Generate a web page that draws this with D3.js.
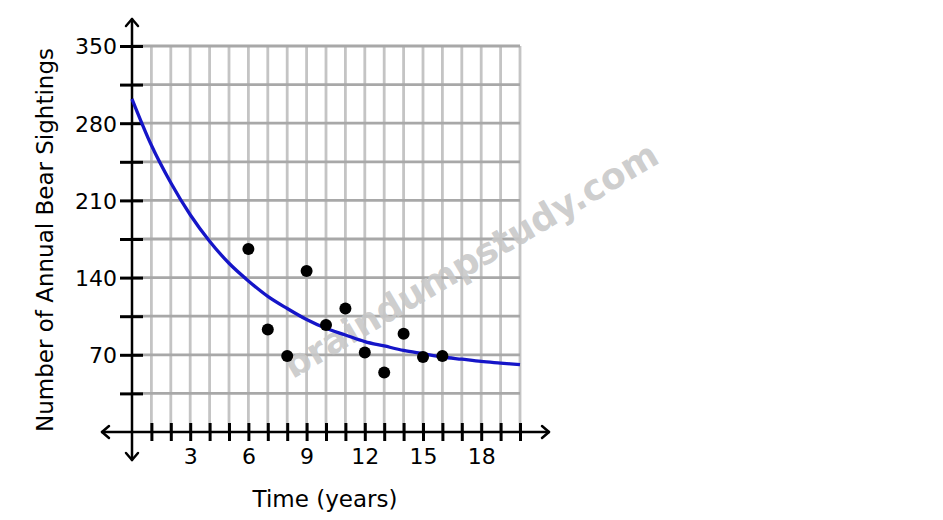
<!DOCTYPE html>
<html>
<head>
<meta charset="utf-8">
<script src="https://cdn.jsdelivr.net/npm/d3@7"></script>
<style>
  html, body { margin: 0; padding: 0; background: #fff; }
  svg { display: block; font-family: "DejaVu Sans", sans-serif; }
</style>
</head>
<body>
<svg id="chart" width="943" height="520"></svg>
<script>
// ---- data ----
const years = [6, 7, 8, 9, 10, 11, 12, 13, 14, 15, 16];
const sightings = [166, 93, 69, 146, 97, 112, 72, 54, 89, 68, 69];
const curveYears = [0, 1, 2, 3, 4, 5, 6, 7, 8, 9, 10, 11, 12, 13, 14, 15, 16, 17, 18, 19, 20];
const curveValues = [302, 260, 226, 197, 173, 153, 137, 123, 112, 102, 94, 88, 82, 78, 74, 71, 68, 66, 64, 62.5, 61];
const xTickLabels = [3, 6, 9, 12, 15, 18];
const yTickLabels = [70, 140, 210, 280, 350];
const xTitle = "Time (years)";
const yTitle = "Number of Annual Bear Sightings";
const watermark = "braindumpstudy.com";

// ---- layout ----
const svg = d3.select("#chart");
const x = d3.scaleLinear().domain([0, 20]).range([132, 520]);
const y = d3.scaleLinear().domain([0, 350]).range([432, 46]);

const gridX = d3.range(1, 21);
const gridY = d3.range(35, 351, 35);

// vertical grid
svg.append("g").selectAll("line").data(gridX).join("line")
  .attr("x1", d => x(d)).attr("x2", d => x(d))
  .attr("y1", y(350)).attr("y2", y(0))
  .attr("stroke", "#c4c4c4").attr("stroke-width", 2.8);

// horizontal grid
svg.append("g").selectAll("line").data(gridY).join("line")
  .attr("x1", x(0)).attr("x2", x(20))
  .attr("y1", d => y(d)).attr("y2", d => y(d))
  .attr("stroke", "#a8a8a8").attr("stroke-width", 2.8);

// watermark
svg.append("text")
  .attr("transform", "translate(472,262) rotate(-30.5)")
  .attr("text-anchor", "middle")
  .attr("dominant-baseline", "middle")
  .attr("font-family", "DejaVu Sans, sans-serif")
  .attr("font-weight", "bold")
  .attr("font-size", 36)
  .attr("fill", "#c8c8c8")
  .attr("fill-opacity", 0.9)
  .text(watermark);

// x axis
const xAxis = d3.axisBottom(x)
  .tickValues(gridX)
  .tickFormat(d => xTickLabels.includes(d) ? d : "")
  .tickSizeOuter(0);
const gx = svg.append("g").attr("transform", `translate(0,${y(0)})`).call(xAxis);
gx.select(".domain").remove();
gx.selectAll(".tick line").attr("y1", -9).attr("y2", 9)
  .attr("stroke", "#000").attr("stroke-width", 3);
gx.selectAll(".tick text").attr("y", 16).attr("dy", "0.71em")
  .attr("font-size", 22).attr("fill", "#000")
  .attr("font-family", "DejaVu Sans, sans-serif");

// y axis
const yAxis = d3.axisLeft(y)
  .tickValues(gridY)
  .tickFormat(d => yTickLabels.includes(d) ? d : "")
  .tickSizeOuter(0);
const gy = svg.append("g").attr("transform", `translate(${x(0)},0)`).call(yAxis);
gy.select(".domain").remove();
gy.selectAll(".tick line").attr("x1", -12).attr("x2", 11)
  .attr("stroke", "#000").attr("stroke-width", 3);
gy.selectAll(".tick text").attr("x", -15).attr("dy", "0.36em")
  .attr("font-size", 22).attr("fill", "#000")
  .attr("font-family", "DejaVu Sans, sans-serif");

// axis lines with arrows
const ax = svg.append("g").attr("stroke", "#000").attr("stroke-width", 2.5)
  .attr("fill", "none").attr("stroke-linecap", "round").attr("stroke-linejoin", "round");
ax.append("line").attr("x1", 102).attr("x2", 549).attr("y1", y(0)).attr("y2", y(0));
ax.append("line").attr("x1", x(0)).attr("x2", x(0)).attr("y1", 19).attr("y2", 460);
ax.append("path").attr("d", `M109,${y(0) - 6}L102,${y(0)}L109,${y(0) + 6}`);
ax.append("path").attr("d", `M542,${y(0) - 6}L549,${y(0)}L542,${y(0) + 6}`);
ax.append("path").attr("d", `M${x(0) - 6},26L${x(0)},19L${x(0) + 6},26`);
ax.append("path").attr("d", `M${x(0) - 6},453L${x(0)},460L${x(0) + 6},453`);

// curve
const line = d3.line().x(d => x(d[0])).y(d => y(d[1])).curve(d3.curveMonotoneX);
svg.append("path")
  .datum(curveYears.map((t, i) => [t, curveValues[i]]))
  .attr("d", line)
  .attr("fill", "none").attr("stroke", "#1515c8").attr("stroke-width", 3.3);

// points
svg.append("g").selectAll("circle").data(years.map((t, i) => [t, sightings[i]])).join("circle")
  .attr("cx", d => x(d[0])).attr("cy", d => y(d[1])).attr("r", 6)
  .attr("fill", "#000");

// titles
svg.append("text")
  .attr("x", 325).attr("y", 500)
  .attr("text-anchor", "middle").attr("dominant-baseline", "middle")
  .attr("font-size", 23).attr("fill", "#000")
  .text(xTitle);
svg.append("text")
  .attr("transform", "translate(46,240) rotate(-90)")
  .attr("text-anchor", "middle").attr("dominant-baseline", "middle")
  .attr("font-size", 23).attr("fill", "#000")
  .text(yTitle);
</script>
</body>
</html>
